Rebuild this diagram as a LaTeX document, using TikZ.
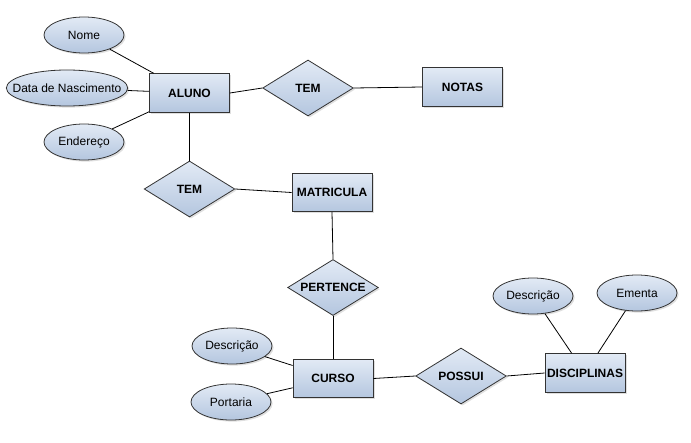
\documentclass[tikz,border=0pt]{standalone}
\usepackage{fontspec}
\setmainfont{Liberation Sans}
\usetikzlibrary{shapes.geometric,shadows}
\definecolor{erTop}{HTML}{E2EAF5}
\definecolor{erBottom}{HTML}{B4C6DF}
\definecolor{erLine}{HTML}{333333}
\newcommand{\erFont}[0]{\fontsize{9}{10}\selectfont}

\begin{document}
\begin{tikzpicture}[x=0.75pt, y=-0.75pt]
  \tikzset{
    erfill/.style={top color=erTop, bottom color=erBottom, draw=erLine, line width=0.6pt,
      drop shadow={opacity=0.25, shadow xshift=1.2pt, shadow yshift=-1.2pt}},
    entity/.style={erfill, rectangle, minimum width=60pt, minimum height=29pt,
      inner sep=1pt, font=\erFont\bfseries},
    relation/.style={erfill, diamond, aspect=1.6, minimum width=68pt, minimum height=42pt,
      inner sep=0pt, font=\erFont\bfseries},
    attrib/.style={erfill, ellipse, minimum width=60pt, minimum height=27pt,
      inner sep=0pt, font=\erFont},
    link/.style={draw=black, line width=0.6pt}
  }
  \useasboundingbox (0,0) rectangle (691,442);

  \node[entity] (aluno) at (189.5,93) {ALUNO};
  \node[entity] (notas) at (462.5,87) {NOTAS};
  \node[entity] (matricula) at (332,192.5) {MATRICULA};
  \node[entity] (curso) at (333,378.5) {CURSO};
  \node[entity] (disciplinas) at (585,373) {DISCIPLINAS};

  \node[relation] (tem-1) at (308,88) {TEM};
  \node[relation] (tem-2) at (189.5,189) {TEM};
  \node[relation] (pertence) at (333,287.5) {PERTENCE};
  \node[relation] (possui) at (461,376) {POSSUI};

  \node[attrib] (nome) at (84,35) {Nome};
  \node[attrib, minimum width=91pt, inner xsep=-9pt] (nascimento) at (67,88) {Data de Nascimento};
  \node[attrib] (endereco) at (84,142) {Endereço};
  \node[attrib] (desc-curso) at (232,346) {Descrição};
  \node[attrib] (portaria) at (231,402) {Portaria};
  \node[attrib] (desc-disc) at (533,296) {Descrição};
  \node[attrib] (ementa) at (637,293) {Ementa};

  \draw[link] (nome) -- (aluno);
  \draw[link] (nascimento) -- (aluno);
  \draw[link] (endereco) -- (aluno);
  \draw[link] (aluno.east) -- (tem-1.west);
  \draw[link] (tem-1.east) -- (notas.west);
  \draw[link] (aluno.south) -- (tem-2.north);
  \draw[link] (tem-2.east) -- (matricula.west);
  \draw[link] (matricula.south) -- (pertence.north);
  \draw[link] (pertence.south) -- (curso.north);
  \draw[link] (desc-curso) -- (curso);
  \draw[link] (portaria) -- (curso);
  \draw[link] (curso.east) -- (possui.west);
  \draw[link] (possui.east) -- (disciplinas.west);
  \draw[link] (desc-disc) -- (disciplinas);
  \draw[link] (ementa) -- (disciplinas);
\end{tikzpicture}
\end{document}
